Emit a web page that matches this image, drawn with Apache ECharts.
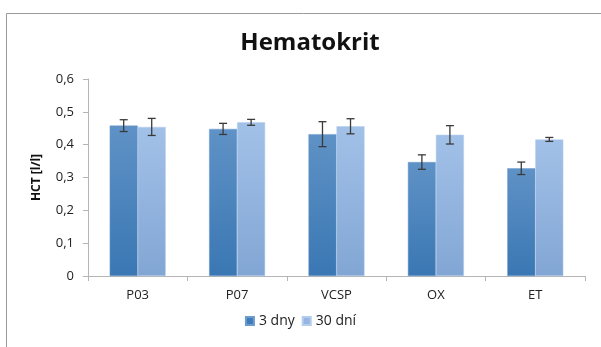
<!DOCTYPE html>
<html>
<head>
<meta charset="utf-8">
<script src="https://cdn.jsdelivr.net/npm/echarts@6/dist/echarts.min.js"></script>
<style>
  html, body { margin: 0; padding: 0; background: #fff; }
  #chart { width: 601px; height: 347px; }
</style>
</head>
<body>
<div id="chart"></div>
<script>
// Hematocrit by group, two sampling times, with error bars
const categories = ['P03', 'P07', 'VCSP', 'OX', 'ET'];
const seriesNames = ['3 dny', '30 dní'];
const hct3 = [0.458, 0.448, 0.432, 0.347, 0.328];
const err3 = [0.018, 0.017, 0.038, 0.022, 0.019];
const hct30 = [0.454, 0.468, 0.456, 0.430, 0.416];
const err30 = [0.026, 0.009, 0.023, 0.028, 0.006];
const yTicks = [0, 0.1, 0.2, 0.3, 0.4, 0.5, 0.6];

const font = '"Open Sans", "Noto Sans", sans-serif';
const chart = echarts.init(document.getElementById('chart'));

const darkFill = new echarts.graphic.LinearGradient(0, 0, 0, 1, [
  { offset: 0, color: '#5f92c6' },
  { offset: 1, color: '#3a77b3' }
]);
const lightFill = new echarts.graphic.LinearGradient(0, 0, 0, 1, [
  { offset: 0, color: '#a2c1e8' },
  { offset: 1, color: '#82a6d4' }
]);

// error bar drawn around each bar top; offset shifts it to the bar centre
function errorSeries(values, errs, offset) {
  return {
    type: 'custom',
    silent: true,
    z: 10,
    data: values.map((v, i) => [i, v - errs[i], v + errs[i]]),
    renderItem: function (params, api) {
      const lo = api.coord([api.value(0), api.value(1)]);
      const hi = api.coord([api.value(0), api.value(2)]);
      const bw = api.size([1, 0])[0];
      const x = lo[0] + offset * bw;
      const cap = 4;
      const style = { stroke: '#3a3a3a', lineWidth: 1.3 };
      return {
        type: 'group',
        children: [
          { type: 'line', shape: { x1: x, y1: hi[1], x2: x, y2: lo[1] }, style: style },
          { type: 'line', shape: { x1: x - cap, y1: hi[1], x2: x + cap, y2: hi[1] }, style: style },
          { type: 'line', shape: { x1: x - cap, y1: lo[1], x2: x + cap, y2: lo[1] }, style: style }
        ]
      };
    }
  };
}

chart.setOption({
  animation: false,
  backgroundColor: '#fff',
  title: {
    text: 'Hematokrit',
    left: 305,
    textAlign: 'center',
    top: 26,
    textStyle: { fontFamily: font, fontSize: 24, fontWeight: 'bold', color: '#111' }
  },
  graphic: [
    {
      type: 'polyline',
      shape: { points: [[6.5, 347], [6.5, 13.5], [601, 13.5]] },
      style: { stroke: '#9a9a9a', lineWidth: 1, fill: null }
    }
  ],
  legend: {
    data: [
      { name: seriesNames[0], itemStyle: { color: '#3f7dba' } },
      { name: seriesNames[1], itemStyle: { color: '#94b6e0' } }
    ],
    bottom: 14,
    left: 'center',
    itemWidth: 8,
    itemHeight: 8,
    itemGap: 7,
    icon: 'rect',
    textStyle: { fontFamily: font, fontSize: 14, color: '#222' }
  },
  grid: { left: 88, right: 16, top: 79, bottom: 71 },
  xAxis: {
    type: 'category',
    data: categories,
    axisLine: { lineStyle: { color: '#b5b5b5' } },
    axisTick: { show: true, length: 5, lineStyle: { color: '#b5b5b5' } },
    axisLabel: { fontFamily: font, fontSize: 13, color: '#222', margin: 13 }
  },
  yAxis: {
    type: 'value',
    min: 0,
    max: 0.6,
    interval: 0.1,
    name: 'HCT [l/l]',
    nameLocation: 'middle',
    nameRotate: 90,
    nameGap: 45,
    nameTextStyle: { fontFamily: font, fontSize: 12, fontWeight: 'bold', color: '#111' },
    axisLine: { show: true, lineStyle: { color: '#b5b5b5' } },
    axisTick: { show: true, length: 5, lineStyle: { color: '#b5b5b5' } },
    splitLine: { show: false },
    axisLabel: {
      fontFamily: font, fontSize: 13, color: '#222', margin: 14,
      formatter: function (v) {
        const t = yTicks.find(k => Math.abs(k - v) < 1e-9);
        return t === 0 ? '0' : String(t).replace('.', ',');
      }
    }
  },
  series: [
    {
      name: seriesNames[0],
      type: 'bar',
      data: hct3,
      barWidth: 28,
      barGap: '0%',
      itemStyle: { color: darkFill, borderColor: '#6d9bcc', borderWidth: 0.5 }
    },
    {
      name: seriesNames[1],
      type: 'bar',
      data: hct30,
      barWidth: 28,
      barGap: '0%',
      itemStyle: { color: lightFill, borderColor: '#b3cdee', borderWidth: 0.5 }
    },
    errorSeries(hct3, err3, -0.141),
    errorSeries(hct30, err30, 0.141)
  ]
});
</script>
</body>
</html>
